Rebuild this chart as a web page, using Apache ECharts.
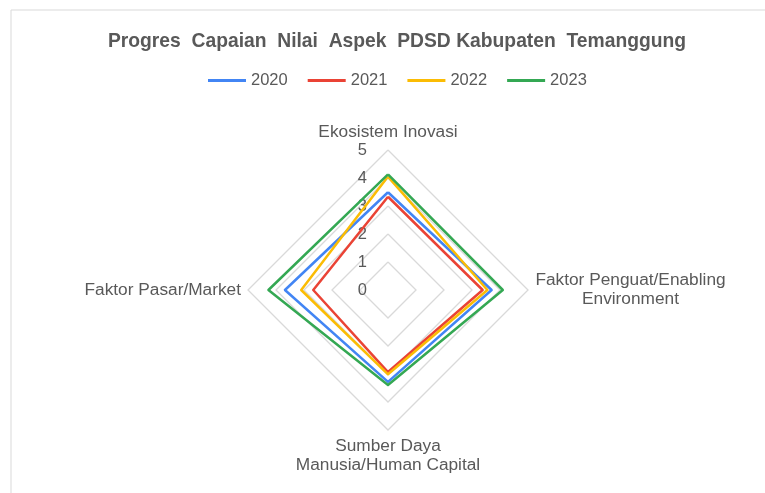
<!DOCTYPE html>
<html>
<head>
<meta charset="utf-8">
<script src="https://cdn.jsdelivr.net/npm/echarts@6/dist/echarts.min.js"></script>
<style>
  html, body { margin: 0; padding: 0; background: #fff; }
  #chart { width: 765px; height: 493px; }
</style>
</head>
<body>
<div id="chart"></div>
<script>
// order follows echarts radar layout (counter-clockwise from top)
const indicators = ['Ekosistem Inovasi', 'Faktor Pasar/Market', 'Sumber Daya\nManusia/Human Capital', 'Faktor Penguat/Enabling\nEnvironment'];
const years = ['2020', '2021', '2022', '2023'];
const v2020 = [3.49, 3.68, 3.28, 3.70];
const v2021 = [3.33, 2.67, 2.93, 3.38];
const v2022 = [4.05, 3.10, 3.01, 3.55];
const v2023 = [4.13, 4.27, 3.39, 4.10];
const colors = ['#4285f4', '#ea4335', '#fbbc04', '#34a853'];

const FONT = 'Liberation Sans, Arial, sans-serif';
const TXT = '#595959';

const myChart = echarts.init(document.getElementById('chart'));

myChart.setOption({
  backgroundColor: '#fff',
  color: colors,
  textStyle: { fontFamily: FONT },
  graphic: [{
    type: 'rect',
    shape: { x: 11, y: 10, width: 800, height: 600 },
    style: { fill: 'none', stroke: '#d9d9d9', lineWidth: 1 },
    silent: true
  }],
  title: {
    text: 'Progres  Capaian  Nilai  Aspek  PDSD Kabupaten  Temanggung',
    left: 392,
    textAlign: 'center',
    top: 27,
    textStyle: { color: TXT, fontSize: 19.3, fontWeight: 'bold', fontFamily: FONT }
  },
  legend: {
    top: 67,
    left: 203,
    itemWidth: 38,
    itemHeight: 3,
    itemGap: 20,
    icon: 'rect',
    textStyle: { color: TXT, fontSize: 16.5, padding: [0, 0, 0, 0] },
    data: years
  },
  radar: {
    center: [388, 290],
    radius: 140,
    shape: 'polygon',
    splitNumber: 5,
    nameGap: 7,
    axisName: {
      color: TXT, fontSize: 17.3, fontFamily: FONT, lineHeight: 19,
      formatter: name => name.startsWith('Faktor Penguat')
        ? name.split('\n').map(s => '{c|' + s + '}').join('\n')
        : name,
      rich: {
        c: { width: 191, align: 'center', color: TXT, fontSize: 17.3, fontFamily: FONT, lineHeight: 19 }
      }
    },
    axisLine: { show: false },
    axisTick: { show: false },
    axisLabel: { show: false },
    splitArea: { show: false },
    splitLine: { lineStyle: { color: '#d9d9d9', width: 1.3 } },
    indicator: indicators.map((name, i) => {
      const ind = { name, min: 0, max: 5 };
      if (i === 0) {
        ind.axisLabel = { show: true, color: TXT, fontSize: 16.5, margin: 21 };
      }
      return ind;
    })
  },
  series: [{
    type: 'radar',
    symbol: 'none',
    lineStyle: { width: 2.5 },
    data: [
      { name: '2020', value: v2020 },
      { name: '2021', value: v2021 },
      { name: '2022', value: v2022 },
      { name: '2023', value: v2023 }
    ]
  }]
});
</script>
</body>
</html>
